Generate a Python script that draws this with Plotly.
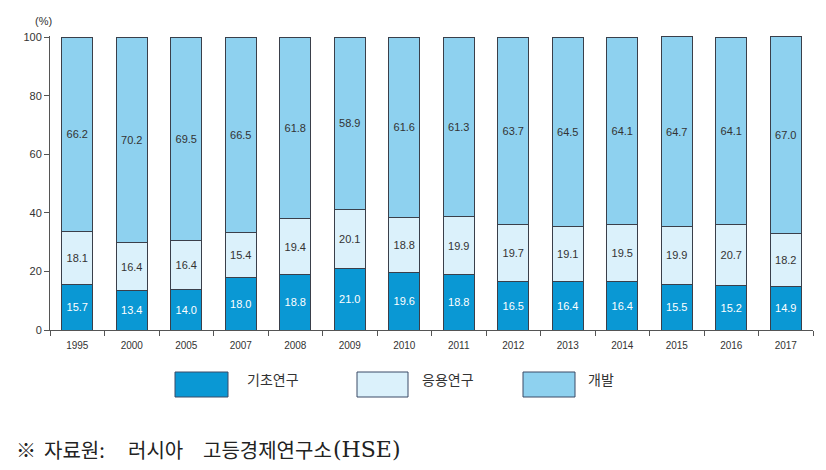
import plotly.graph_objects as go

years = ["1995", "2000", "2005", "2007", "2008", "2009", "2010", "2011",
         "2012", "2013", "2014", "2015", "2016", "2017"]
basic = [15.7, 13.4, 14.0, 18.0, 18.8, 21.0, 19.6, 18.8, 16.5, 16.4, 16.4, 15.5, 15.2, 14.9]
applied = [18.1, 16.4, 16.4, 15.4, 19.4, 20.1, 18.8, 19.9, 19.7, 19.1, 19.5, 19.9, 20.7, 18.2]
develop = [66.2, 70.2, 69.5, 66.5, 61.8, 58.9, 61.6, 61.3, 63.7, 64.5, 64.1, 64.7, 64.1, 67.0]
series_names = ["기초연구", "응용연구", "개발"]
colors = ["#0a98d4", "#dbf1fb", "#8ed1ef"]
text_colors = ["white", "#333333", "#333333"]
yticks = [0, 20, 40, 60, 80, 100]

W, H = 826, 470
L, R, T, B = 50, 13, 36, 140
pw, ph = W - L - R, H - T - B

def px(x):
    return (x - L) / pw

def py(y):
    return (H - B - y) / ph

fig = go.Figure()
for name, vals, col, tc in zip(series_names, [basic, applied, develop], colors, text_colors):
    fig.add_trace(go.Bar(
        x=years, y=vals, name=name,
        marker=dict(color=col, line=dict(color="#3a3f4a", width=1)),
        text=[f"{v:.1f}" for v in vals], textposition="inside",
        insidetextanchor="middle",
        textfont=dict(color=tc, size=11, family="Liberation Sans, Arial"),
        showlegend=False,
    ))

fig.update_layout(
    barmode="stack", bargap=0.43,
    width=W, height=H,
    margin=dict(l=L, r=R, t=T, b=B),
    plot_bgcolor="white", paper_bgcolor="white",
    font=dict(family="Liberation Sans, Arial", color="#333333"),
    uniformtext=dict(minsize=11, mode="show"),
)
fig.update_xaxes(
    type="category", showline=True, linecolor="#555555", linewidth=1,
    ticks="outside", tickson="boundaries", ticklen=5, tickcolor="#555555",
    tickfont=dict(size=10, color="#333333"), showgrid=False,
    ticklabelstandoff=6,
)
fig.update_yaxes(
    range=[0, 100.4], tickvals=yticks, showline=True, linecolor="#555555", linewidth=1,
    ticks="outside", ticklen=5, tickcolor="#555555",
    tickfont=dict(size=11, color="#333333"), showgrid=False, zeroline=False,
)

# "(%)" unit label
fig.add_annotation(x=px(33), y=py(13), xref="paper", yref="paper", text="(%)",
                   showarrow=False, font=dict(size=11, color="#333333"))

# custom legend
legend_boxes = [(175, 228, 245), (357, 408, 420), (523, 575, 586)]
for (x0, x1, tx), name, col in zip(legend_boxes, series_names, colors):
    fig.add_shape(type="rect", xref="paper", yref="paper",
                  x0=px(x0), x1=px(x1), y0=py(397), y1=py(372),
                  fillcolor=col, line=dict(color="#3a4a66", width=1))
    fig.add_annotation(x=px(tx), y=py(391), xref="paper", yref="paper", text=name,
                       showarrow=False, xanchor="left",
                       font=dict(size=14, color="#333333", family="Noto Sans CJK KR"))

# source note (pieces placed to match the original's wide spacing)
note_parts = [("※", 14, "Noto Sans CJK KR", 20, 466),
              ("자료원:", 42, "Noto Sans CJK KR", 20, 466),
              ("러시아", 126, "Noto Sans CJK KR", 20, 466),
              ("고등경제연구소", 201, "Noto Sans CJK KR", 20, 466),
              ("(HSE)", 331, "DejaVu Serif", 22, 464)]
for txt, x, fam, size, y in note_parts:
    fig.add_annotation(x=px(x), y=py(y), xref="paper", yref="paper",
                       text=txt, showarrow=False, xanchor="left",
                       font=dict(size=size, color="#222222", family=fam))

fig.write_html("out.html")
